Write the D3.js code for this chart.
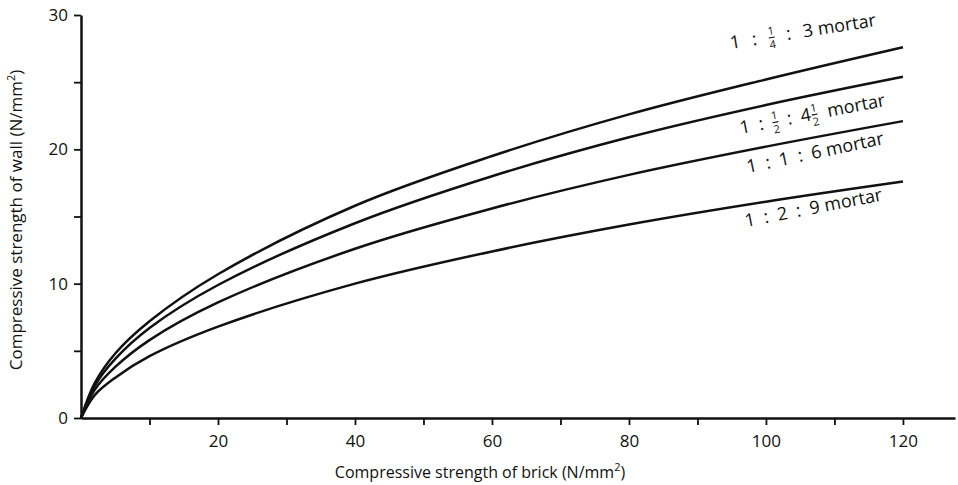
<!DOCTYPE html>
<html>
<head>
<meta charset="utf-8">
<script src="https://cdn.jsdelivr.net/npm/d3@7"></script>
<style>
  html, body { margin: 0; padding: 0; background: #fff; }
  svg { display: block; }
  text { font-family: "Open Sans", "Noto Sans", sans-serif; fill: #111; }
</style>
</head>
<body>
<svg id="chart" width="958" height="485"></svg>
<script>
// Brick strength (x) and wall strength for each mortar designation
const brickStrength = [0, 2, 5, 10, 20, 40, 60, 80, 100, 120];
const mortarA = [0, 2.6, 4.8, 7.2, 10.7, 15.8, 19.5, 22.6, 25.2, 27.6]; // 1 : 1/4 : 3
const mortarB = [0, 2.4, 4.4, 6.7, 9.9, 14.5, 18.0, 20.9, 23.3, 25.4];   // 1 : 1/2 : 4 1/2
const mortarC = [0, 2.1, 3.8, 5.8, 8.6, 12.6, 15.6, 18.1, 20.2, 22.1];   // 1 : 1 : 6
const mortarD = [0, 1.7, 3.0, 4.6, 6.8, 10.0, 12.4, 14.4, 16.1, 17.6];   // 1 : 2 : 9

const xTickValues = [10, 20, 30, 40, 50, 60, 70, 80, 90, 100, 110, 120];
const yTickValues = [0, 5, 10, 15, 20, 25, 30];

// Curve labels: sequences of plain text and stacked fractions
const curveLabels = [
  [["t", "1"], ["t", ":"], ["f", "1", "4"], ["t", ":"], ["t", "3 mortar"]],
  [["t", "1"], ["t", ":"], ["f", "1", "2"], ["t", ":"], ["m", "4", "1", "2"], ["t", "mortar"]],
  [["t", "1"], ["t", ":"], ["t", "1"], ["t", ":"], ["t", "6 mortar"]],
  [["t", "1"], ["t", ":"], ["t", "2"], ["t", ":"], ["t", "9 mortar"]]
];
const labelAnchors = [[731, 49], [741, 134], [748, 173], [746, 227]];
const labelAngles = [-9, -11, -12, -11];
const labelGaps = [12, 9, 9, 9];

const svg = d3.select("#chart");

const x = d3.scaleLinear().domain([0, 127.6]).range([81, 955]);
const y = d3.scaleLinear().domain([0, 30]).range([418, 15]);

// Axes
const xAxis = d3.axisBottom(x)
  .tickValues(xTickValues)
  .tickSize(7)
  .tickSizeOuter(0)
  .tickPadding(10)
  .tickFormat(d => d % 20 === 0 ? d : "");
const gx = svg.append("g").attr("transform", `translate(0,${y(0)})`).call(xAxis);
gx.select(".domain").attr("stroke", "#111").attr("stroke-width", 2.5);
gx.selectAll(".tick line").attr("stroke", "#111").attr("stroke-width", 1.8);
gx.selectAll(".tick text").attr("font-size", 17).attr("fill", "#111");

const yAxis = d3.axisLeft(y)
  .tickValues(yTickValues)
  .tickSize(7)
  .tickSizeOuter(0)
  .tickPadding(6)
  .tickFormat(d => d % 10 === 0 ? d : "");
const gy = svg.append("g").attr("transform", `translate(${x(0)},0)`).call(yAxis);
gy.select(".domain").attr("stroke", "#111").attr("stroke-width", 2.5);
gy.selectAll(".tick line").attr("stroke", "#111").attr("stroke-width", 1.8);
gy.selectAll(".tick text").attr("font-size", 17).attr("fill", "#111");

// Axis titles
function unitTitle(sel, label) {
  sel.append("tspan").text(label + " (N/mm");
  sel.append("tspan").attr("dy", -7).attr("font-size", 11).text("2");
  sel.append("tspan").attr("dy", 7).text(")");
}
unitTitle(svg.append("text")
  .attr("x", 480).attr("y", 478)
  .attr("text-anchor", "middle")
  .attr("font-size", 16), "Compressive strength of brick");

unitTitle(svg.append("text")
  .attr("transform", "translate(22,220) rotate(-90)")
  .attr("text-anchor", "middle")
  .attr("font-size", 17), "Compressive strength of wall");

// Curves
const line = d3.line()
  .x(d => x(d[0]))
  .y(d => y(d[1]))
  .curve(d3.curveCatmullRom.alpha(0.5));

[mortarA, mortarB, mortarC, mortarD].forEach(series => {
  svg.append("path")
    .datum(brickStrength.map((b, i) => [b, series[i]]))
    .attr("fill", "none")
    .attr("stroke", "#111")
    .attr("stroke-width", 2.5)
    .attr("stroke-linejoin", "round")
    .attr("d", line);
});

// Rotated curve labels with stacked fractions
const mainSize = 18, fracSize = 11;
function fraction(g, cx, num, den) {
  g.append("text").attr("x", cx).attr("y", -8).attr("font-size", fracSize)
    .attr("text-anchor", "middle").text(num);
  g.append("text").attr("x", cx).attr("y", 6).attr("font-size", fracSize)
    .attr("text-anchor", "middle").text(den);
  g.append("line").attr("x1", cx - 3).attr("x2", cx + 3)
    .attr("y1", -5).attr("y2", -5).attr("stroke", "#111").attr("stroke-width", 1.1);
}

curveLabels.forEach((parts, i) => {
  const [ax, ay] = labelAnchors[i];
  const gap = labelGaps[i];
  const g = svg.append("g").attr("transform", `translate(${ax},${ay}) rotate(${labelAngles[i]})`);
  let cx = 0;
  parts.forEach((p, j) => {
    if (j > 0) cx += gap;
    if (p[0] === "t") {
      const t = g.append("text").attr("x", cx).attr("y", 0).attr("font-size", mainSize).text(p[1]);
      cx += t.node().getComputedTextLength();
    } else if (p[0] === "f") {
      fraction(g, cx + 3, p[1], p[2]);
      cx += 6;
    } else {
      const t = g.append("text").attr("x", cx).attr("y", 0).attr("font-size", mainSize).text(p[1]);
      cx += t.node().getComputedTextLength() + 4;
      fraction(g, cx, p[2], p[3]);
      cx += 4;
    }
  });
});
</script>
</body>
</html>
